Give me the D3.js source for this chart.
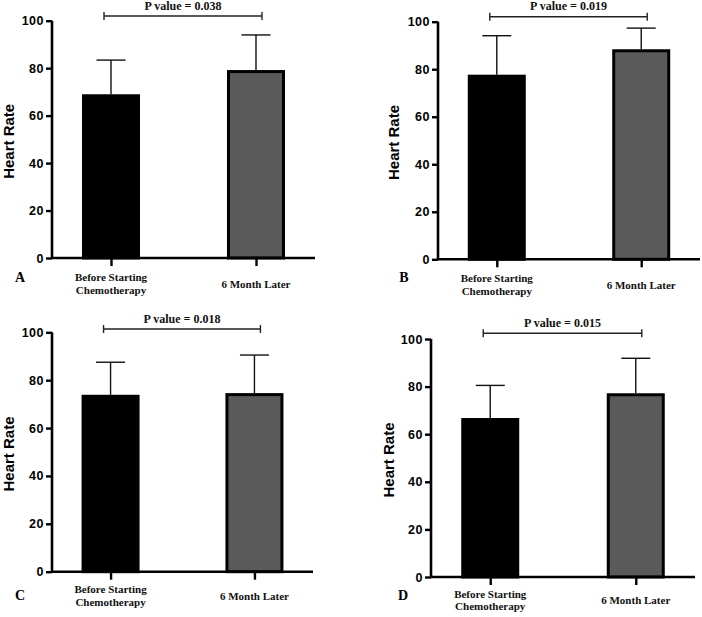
<!DOCTYPE html>
<html>
<head>
<meta charset="utf-8">
<script src="https://cdn.jsdelivr.net/npm/d3@7"></script>
<style>
  body { margin: 0; background: #fff; }
  svg { display: block; }
</style>
</head>
<body>
<svg id="chart" width="702" height="617"></svg>
<script>
// data
var categories = ["Before Starting|Chemotherapy", "6 Month Later"];
var panelLetters = ["A", "B", "C", "D"];
var meanBefore = [69.0, 77.7, 73.9, 66.8];
var meanAfter = [79.2, 88.4, 74.6, 77.2];
var errBefore = [83.4, 94.1, 87.5, 80.5];   // top of error bar
var errAfter = [94.0, 97.3, 90.5, 91.9];
var pValues = ["0.038", "0.019", "0.018", "0.015"];
var yTicks = [0, 20, 40, 60, 80, 100];
var barColors = ["#000000", "#5a5a5a"];

// where each panel sits on the page
var layout = [
  {left: 52, right: 315, zero: 258, top: 20.7, ylab: 8, letterX: 20, letterY: 282, brY: 16, catY: 281},
  {left: 438, right: 700, zero: 259.3, top: 21.7, ylab: 393, letterX: 404, letterY: 282, brY: 16.7, catY: 282},
  {left: 52, right: 313, zero: 571.7, top: 332.3, ylab: 8, letterX: 20, letterY: 600, brY: 329, catY: 593},
  {left: 431, right: 695, zero: 577, top: 339, ylab: 388, letterX: 403, letterY: 600, brY: 333.3, catY: 597.7}
];

var svg = d3.select("#chart");

function drawPanel(i) {
  var L = layout[i];
  var g = svg.append("g");

  var y = d3.scaleLinear().domain([0, 100]).range([L.zero, L.top]);
  var x = d3.scalePoint().domain(categories).range([L.left, L.right]).padding(0.407);
  var bw = 58;

  var vals = [
    {cat: categories[0], mean: meanBefore[i], err: errBefore[i], color: barColors[0]},
    {cat: categories[1], mean: meanAfter[i], err: errAfter[i], color: barColors[1]}
  ];

  // error bars (upper only), behind the bars
  vals.forEach(function(d) {
    var cx = x(d.cat);
    g.append("line")
      .attr("x1", cx).attr("x2", cx)
      .attr("y1", y(d.mean)).attr("y2", y(d.err))
      .attr("stroke", "#111").attr("stroke-width", 1.4);
    g.append("line")
      .attr("x1", cx - 14.5).attr("x2", cx + 14.5)
      .attr("y1", y(d.err)).attr("y2", y(d.err))
      .attr("stroke", "#111").attr("stroke-width", 1.4);
  });

  g.selectAll("rect.bar").data(vals).enter().append("rect")
    .attr("class", "bar")
    .attr("x", function(d) { return x(d.cat) - bw / 2 + 1.5; })
    .attr("width", bw - 3)
    .attr("y", function(d) { return y(d.mean) + 1.5; })
    .attr("height", function(d) { return y(0) - y(d.mean) - 1.5; })
    .attr("fill", function(d) { return d.color; })
    .attr("stroke", "#000")
    .attr("stroke-width", 3);

  // y axis
  var yAxis = g.append("g")
    .attr("transform", "translate(" + L.left + ",0)")
    .call(d3.axisLeft(y).tickValues(yTicks).tickSize(6).tickPadding(2));
  yAxis.select(".domain").attr("stroke", "#000").attr("stroke-width", 2.6)
    .attr("d", "M0," + L.top + "V" + L.zero);
  yAxis.selectAll(".tick line").attr("stroke", "#000").attr("stroke-width", 2.4);
  yAxis.selectAll(".tick text")
    .attr("font-family", "'Liberation Sans', Arial, sans-serif")
    .attr("font-weight", "bold").attr("font-size", 12.5)
    .attr("letter-spacing", 0.5)
    .attr("fill", "#000");

  // x axis
  var xAxis = g.append("g")
    .attr("transform", "translate(0," + L.zero + ")")
    .call(d3.axisBottom(x).tickSize(8).tickFormat(""));
  xAxis.select(".domain").attr("stroke", "#000").attr("stroke-width", 2.6)
    .attr("d", "M" + L.left + ",0H" + L.right);
  xAxis.selectAll(".tick line").attr("stroke", "#000").attr("stroke-width", 2.4);

  // category labels
  vals.forEach(function(d, k) {
    var lines = d.cat.split("|");
    var t = g.append("text")
      .attr("x", x(d.cat))
      .attr("y", lines.length > 1 ? L.catY : L.catY + 6.5)
      .attr("text-anchor", "middle")
      .attr("font-family", "'Liberation Serif', 'Times New Roman', serif")
      .attr("font-weight", "bold").attr("font-size", 11)
      .attr("fill", "#111");
    lines.forEach(function(s, j) {
      t.append("tspan").attr("x", x(d.cat)).attr("dy", j ? 12.6 : 0).text(s);
    });
  });

  // y label
  g.append("text")
    .attr("transform", "translate(" + (L.ylab + 5.5) + "," + ((L.zero + L.top) / 2 + 2) + ") rotate(-90)")
    .attr("text-anchor", "middle")
    .attr("font-family", "'Liberation Sans', Arial, sans-serif")
    .attr("font-weight", "bold").attr("font-size", 15)
    .attr("fill", "#000")
    .text("Heart Rate");

  // significance bracket
  var bx1 = x(categories[0]) - 7, bx2 = x(categories[1]) + 6;
  g.append("path")
    .attr("d", "M" + bx1 + "," + (L.brY - 4) + "V" + (L.brY + 4) +
               "M" + bx1 + "," + L.brY + "H" + bx2 +
               "M" + bx2 + "," + (L.brY - 4) + "V" + (L.brY + 4))
    .attr("fill", "none").attr("stroke", "#222").attr("stroke-width", 1.4);
  g.append("text")
    .attr("x", (bx1 + bx2) / 2)
    .attr("y", L.brY - 6.5)
    .attr("text-anchor", "middle")
    .attr("font-family", "'Liberation Serif', 'Times New Roman', serif")
    .attr("font-weight", "bold").attr("font-size", 12)
    .attr("fill", "#111")
    .text("P value = " + pValues[i]);

  // panel letter
  g.append("text")
    .attr("x", L.letterX).attr("y", L.letterY)
    .attr("text-anchor", "middle")
    .attr("font-family", "'Liberation Serif', 'Times New Roman', serif")
    .attr("font-weight", "bold").attr("font-size", 14)
    .attr("fill", "#000")
    .text(panelLetters[i]);
}

for (var i = 0; i < 4; i++) drawPanel(i);
</script>
</body>
</html>
